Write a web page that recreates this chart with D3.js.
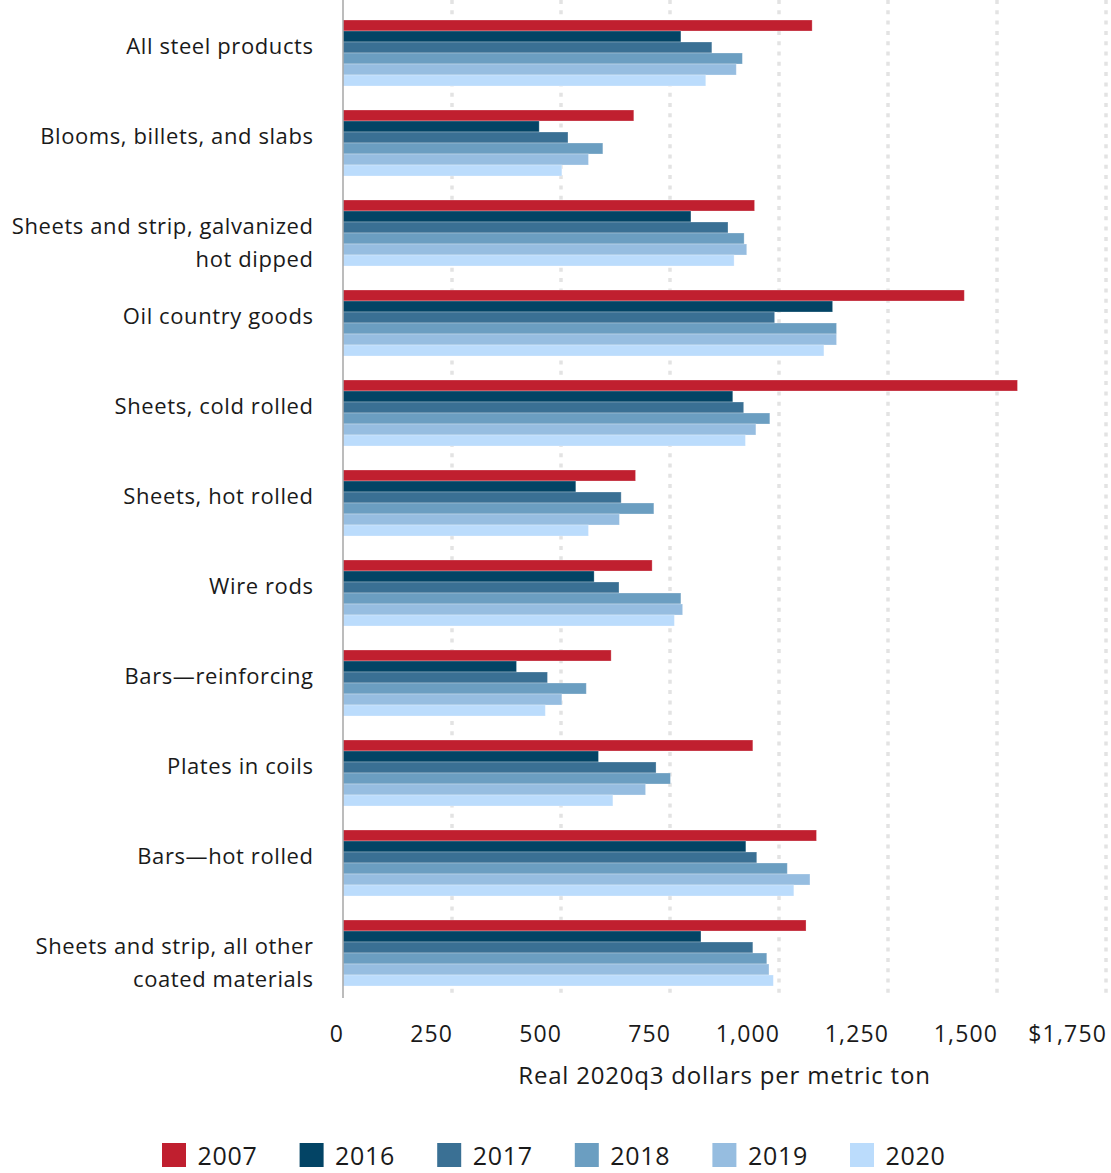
<!DOCTYPE html>
<html>
<head>
<meta charset="utf-8">
<script src="https://cdn.jsdelivr.net/npm/d3@7"></script>
<style>
  body { margin: 0; background: #fff; }
  text { font-family: "Open Sans", "Noto Sans", sans-serif; fill: #1a1a1a; }
</style>
</head>
<body>
<script>
let w = 1111;
let h = 1173;

// categories, top to bottom (\n = line break)
let categories = [
  "All steel products",
  "Blooms, billets, and slabs",
  "Sheets and strip, galvanized\nhot dipped",
  "Oil country goods",
  "Sheets, cold rolled",
  "Sheets, hot rolled",
  "Wire rods",
  "Bars\u2014reinforcing",
  "Plates in coils",
  "Bars\u2014hot rolled",
  "Sheets and strip, all other\ncoated materials"
];

let years = ["2007", "2016", "2017", "2018", "2019", "2020"];
let colors = ["#c01f2f", "#034465", "#3a7094", "#6b9ec1", "#96bde0", "#bbdcfc"];

// real 2020q3 dollars per metric ton, one array per year
let v2007 = [1076, 667, 944, 1425, 1547, 671, 709, 615, 940, 1086, 1062];
let v2016 = [775, 450, 798, 1123, 894, 534, 576, 398, 586, 924, 821];
let v2017 = [846, 516, 883, 990, 919, 638, 633, 469, 718, 949, 940];
let v2018 = [916, 596, 920, 1132, 979, 713, 775, 558, 751, 1019, 972];
let v2019 = [902, 563, 926, 1132, 947, 634, 779, 502, 694, 1071, 977];
let v2020 = [832, 502, 897, 1103, 923, 563, 760, 464, 619, 1034, 987];

let ticks = [0, 250, 500, 750, 1000, 1250, 1500, 1750];
let tickLabels = ["0", "250", "500", "750", "1,000", "1,250", "1,500", "$1,750"];

let series = [v2007, v2016, v2017, v2018, v2019, v2020];
let rows = categories.map((c, i) => ({ cat: c, vals: series.map(s => s[i]) }));

let x0 = 343, x1 = 1106;

let xScale = d3.scaleLinear()
  .domain([0, 1750])
  .range([x0, x1]);

let yScale = d3.scaleBand()
  .domain(categories)
  .range([8, 998])
  .paddingInner(24 / 90)
  .paddingOuter(12 / 90);

let ySub = d3.scaleBand()
  .domain(years)
  .range([0, yScale.bandwidth()]);

let svg = d3.select("body")
  .append("svg")
  .attr("width", w)
  .attr("height", h);

// dotted grid lines
svg.append("g")
  .selectAll("line")
  .data(ticks.slice(1))
  .enter()
  .append("line")
  .attr("x1", d => xScale(d))
  .attr("x2", d => xScale(d))
  .attr("y1", 0)
  .attr("y2", 998)
  .attr("stroke", "#e3e3e3")
  .attr("stroke-width", 3.5)
  .attr("stroke-dasharray", "4,6.3");

// bars
let groups = svg.append("g")
  .selectAll("g")
  .data(rows)
  .enter()
  .append("g")
  .attr("transform", d => "translate(0," + yScale(d.cat) + ")");

groups.selectAll("rect")
  .data(d => d.vals)
  .enter()
  .append("rect")
  .attr("x", xScale(0))
  .attr("y", (d, i) => ySub(years[i]))
  .attr("width", d => xScale(d) - xScale(0))
  .attr("height", ySub.bandwidth())
  .attr("fill", (d, i) => colors[i])
  .attr("stroke", "#fff")
  .attr("stroke-opacity", 0.35)
  .attr("stroke-width", 0.8);

// y axis line
svg.append("line")
  .attr("x1", x0).attr("x2", x0)
  .attr("y1", 0).attr("y2", 998)
  .attr("stroke", "#a6a6a6")
  .attr("stroke-width", 1.5);

// category labels
let labels = svg.append("g")
  .selectAll("text")
  .data(rows)
  .enter()
  .append("text")
  .attr("text-anchor", "end")
  .attr("font-size", "22px")
  .attr("letter-spacing", "0.6px")
  .attr("y", d => yScale(d.cat) + yScale.bandwidth() / 2 + 1);

labels.selectAll("tspan")
  .data(d => d.cat.split("\n"))
  .enter()
  .append("tspan")
  .attr("x", 313.6)
  .attr("dy", (d, i) => i === 0 ? 0 : 33)
  .text(d => d);

// x tick labels (right-aligned on grid lines)
svg.append("g")
  .selectAll("text")
  .data(ticks)
  .enter()
  .append("text")
  .attr("text-anchor", "end")
  .attr("font-size", "23px")
  .attr("letter-spacing", "1.2px")
  .attr("x", d => xScale(d) + 1.2)
  .attr("y", 1042)
  .text((d, i) => tickLabels[i]);

svg.append("text")
  .attr("text-anchor", "middle")
  .attr("font-size", "24px")
  .attr("letter-spacing", "0.8px")
  .attr("x", (x0 + x1) / 2)
  .attr("y", 1084)
  .text("Real 2020q3 dollars per metric ton");

// legend
let legend = svg.append("g")
  .selectAll("g")
  .data(years)
  .enter()
  .append("g")
  .attr("transform", (d, i) => "translate(" + (162 + i * 137.6) + ",1143)");

legend.append("rect")
  .attr("width", 24)
  .attr("height", 24)
  .attr("fill", (d, i) => colors[i]);

legend.append("text")
  .attr("x", 35.5)
  .attr("y", 22)
  .attr("font-size", "25px")
  .attr("letter-spacing", "0.7px")
  .text(d => d);
</script>
</body>
</html>
